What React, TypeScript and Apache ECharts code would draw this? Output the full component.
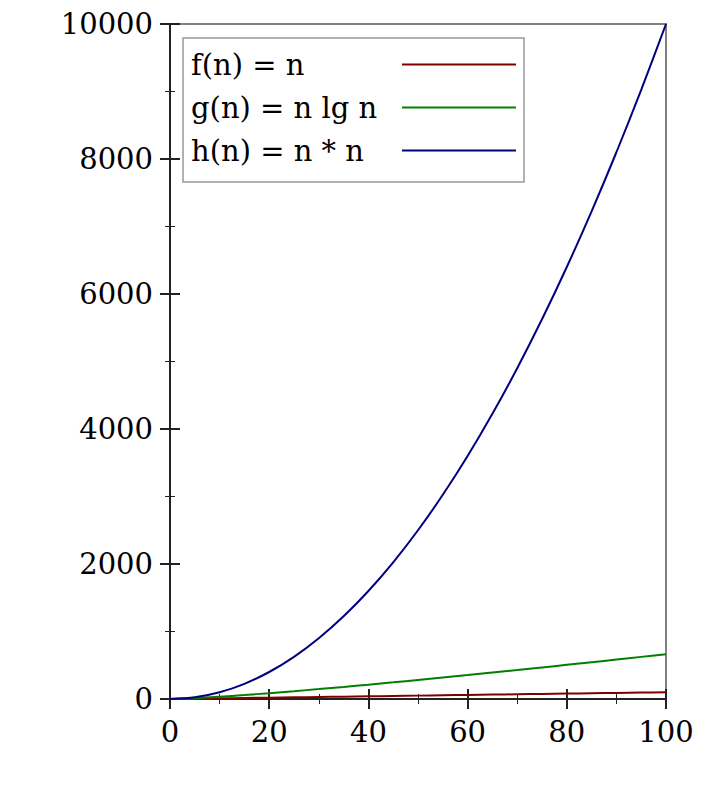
import React, { useEffect, useRef } from "react";
import * as echarts from "echarts";

const nValues = [0, 5, 10, 15, 20, 25, 30, 35, 40, 45, 50, 55, 60, 65, 70, 75, 80, 85, 90, 95, 100];
const fValues = [0, 5, 10, 15, 20, 25, 30, 35, 40, 45, 50, 55, 60, 65, 70, 75, 80, 85, 90, 95, 100];
const gValues = [0, 11.6, 33.2, 58.6, 86.4, 116.1, 147.2, 179.5, 212.9, 247.1, 282.2, 318.0, 354.4, 391.5, 429.1, 467.1, 505.8, 544.8, 584.3, 624.1, 664.4];
const hValues = [0, 25, 100, 225, 400, 625, 900, 1225, 1600, 2025, 2500, 3025, 3600, 4225, 4900, 5625, 6400, 7225, 8100, 9025, 10000];
const seriesNames = ["f(n) = n", "g(n) = n lg n", "h(n) = n * n"];
const seriesColors = ["#800000", "#008000", "#000080"];
const xTicks = { min: 0, max: 100, interval: 20 };
const yTicks = { min: 0, max: 10000, interval: 2000 };

const FONT = "DejaVu Serif";

export default function App() {
  const ref = useRef<HTMLDivElement>(null);
  useEffect(() => {
    if (!ref.current) return;
    const chart = echarts.init(ref.current, null, { renderer: "svg" });
    const allData = [fValues, gValues, hValues];
    const axisColor = "#222222";
    const baseX = {
      type: "value" as const,
      min: xTicks.min,
      max: xTicks.max,
      interval: xTicks.interval,
      position: "bottom" as const,
      splitLine: { show: false },
    };
    const baseY = {
      type: "value" as const,
      min: yTicks.min,
      max: yTicks.max,
      interval: yTicks.interval,
      position: "left" as const,
      splitLine: { show: false },
    };
    chart.setOption({
      animation: false,
      grid: {
        left: 170,
        top: 24,
        right: 36,
        bottom: 113,
        show: true,
        borderColor: "#808080",
        borderWidth: 2,
        backgroundColor: "transparent",
      },
      legend: {
        orient: "vertical",
        left: 183,
        top: 38,
        align: "right",
        itemWidth: 114,
        itemHeight: 2,
        itemGap: 14,
        padding: [12, 8, 17, 8],
        borderColor: "#999999",
        borderWidth: 1.5,
        backgroundColor: "#ffffff",
        icon: "rect",
        data: seriesNames,
        formatter: (name: string) => `{t|${name}}`,
        textStyle: {
          rich: {
            t: {
              fontFamily: FONT,
              fontSize: 29,
              lineHeight: 30,
              color: "#000000",
              width: 206,
              align: "left",
            },
          },
        },
      },
      xAxis: [
        {
          ...baseX,
          axisLine: { show: true, onZero: false, lineStyle: { color: axisColor, width: 2 } },
          axisTick: { show: true, inside: true, length: 10, lineStyle: { color: axisColor, width: 2 } },
          minorTick: { show: true, splitNumber: 2, length: 5, lineStyle: { color: axisColor, width: 1 } },
          axisLabel: { fontFamily: FONT, fontSize: 29, color: "#000000", margin: 18, formatter: (v: number) => String(v) },
        },
        {
          ...baseX,
          axisLine: { show: false, onZero: false },
          axisTick: { show: true, inside: false, length: 10, lineStyle: { color: axisColor, width: 2 } },
          minorTick: { show: true, splitNumber: 2, length: 5, lineStyle: { color: axisColor, width: 1 } },
          axisLabel: { show: false },
        },
      ],
      yAxis: [
        {
          ...baseY,
          axisLine: { show: true, onZero: false, lineStyle: { color: axisColor, width: 2 } },
          axisTick: { show: true, inside: true, length: 10, lineStyle: { color: axisColor, width: 2 } },
          minorTick: { show: true, splitNumber: 2, length: 5, lineStyle: { color: axisColor, width: 1 } },
          axisLabel: { fontFamily: FONT, fontSize: 29, color: "#000000", margin: 17, formatter: (v: number) => String(v) },
        },
        {
          ...baseY,
          axisLine: { show: false, onZero: false },
          axisTick: { show: true, inside: false, length: 10, lineStyle: { color: axisColor, width: 2 } },
          minorTick: { show: true, splitNumber: 2, length: 5, lineStyle: { color: axisColor, width: 1 } },
          axisLabel: { show: false },
        },
      ],
      series: seriesNames.map((name, i) => ({
        name,
        type: "line",
        xAxisIndex: 0,
        yAxisIndex: 0,
        showSymbol: false,
        smooth: 0.3,
        color: seriesColors[i],
        lineStyle: { color: seriesColors[i], width: 2 },
        data: nValues.map((n, j) => [n, allData[i][j]]),
        z: 1,
      })),
    });
    return () => chart.dispose();
  }, []);
  return (
    <div
      ref={ref}
      style={{ position: "fixed", left: 0, top: 0, width: 702, height: 812, background: "#ffffff" }}
    />
  );
}
